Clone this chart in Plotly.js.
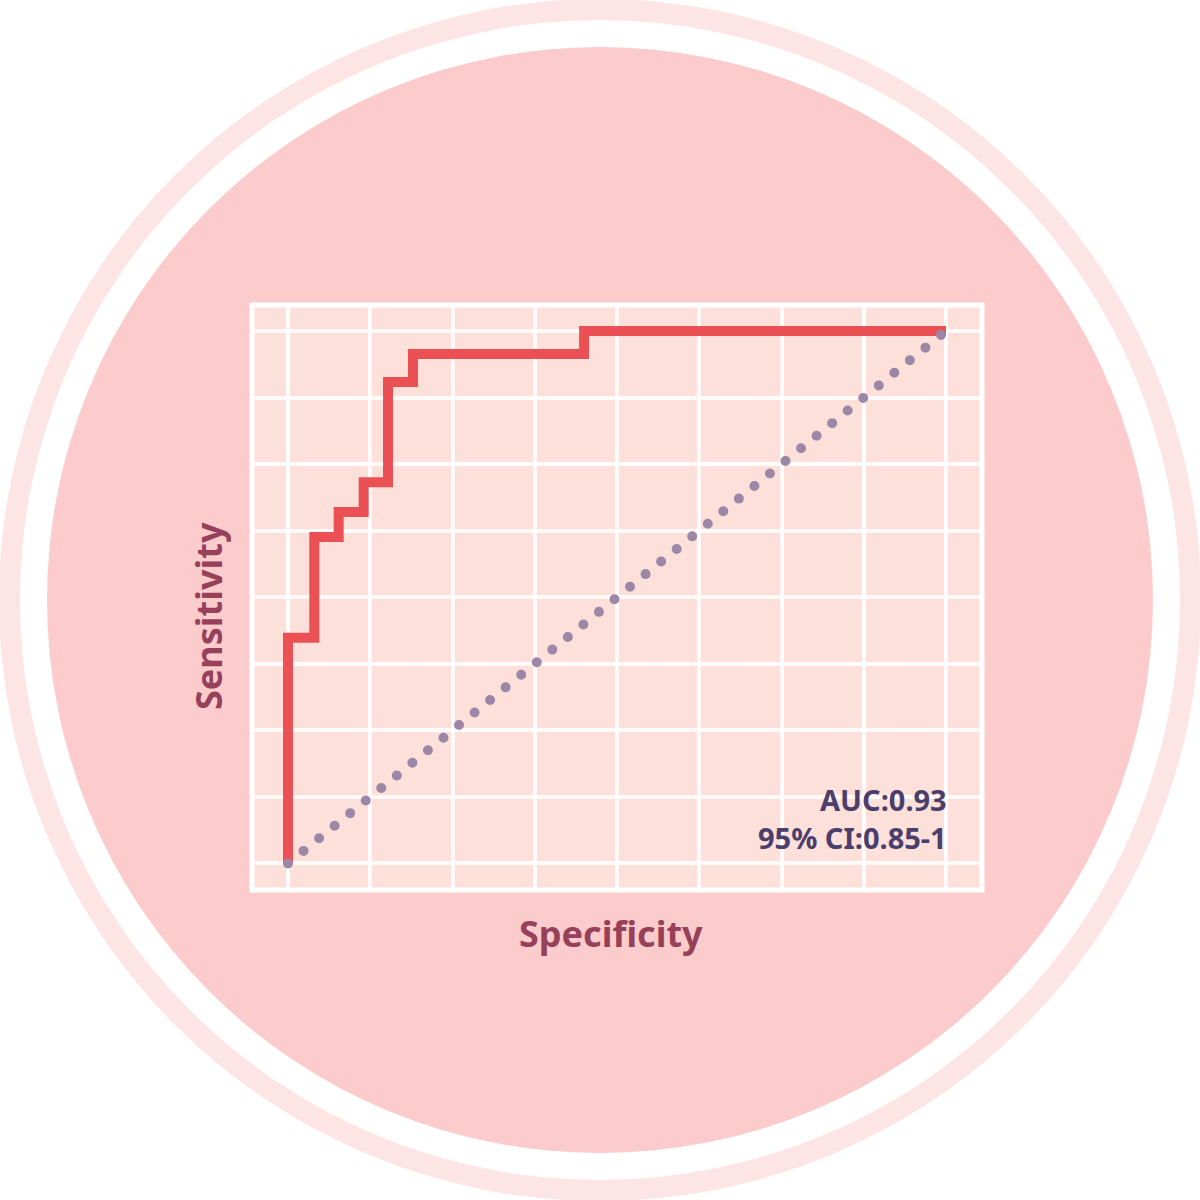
<!DOCTYPE html>
<html><head><meta charset="utf-8">
<script src="https://cdn.plot.ly/plotly-3.0.1.min.js"></script>
<style>html,body{margin:0;padding:0;background:#fff;} #chart{width:1200px;height:1200px;}</style>
</head><body><div id="chart"></div>
<script>
// ROC curve: specificity (x axis, reversed) vs sensitivity (y axis)
const specificity = [1, 0.96, 0.923, 0.885, 0.848, 0.81, 0.55, 0];
const sensitivity = [0, 0.424, 0.613, 0.66, 0.716, 0.904, 0.957, 1];
// chance (reference) diagonal
const refSpecificity = [1, 0];
const refSensitivity = [0, 1];
const aucText = 'AUC:0.93';
const ciText = '95% CI:0.85-1';
const xTitle = 'Specificity';
const yTitle = 'Sensitivity';

const W = 1200, H = 1200;
const M = {l: 252, r: 218, t: 305, b: 310};
const PW = W - M.l - M.r, PH = H - M.t - M.b;
const px = v => (v - M.l) / PW;
const py = v => (H - M.b - v) / PH;

function circle(cx, cy, r, color) {
  return {type: 'circle', xref: 'paper', yref: 'paper', layer: 'below',
    x0: px(cx - r), x1: px(cx + r), y0: py(cy + r), y1: py(cy - r),
    fillcolor: color, line: {width: 0}};
}

const FONT = 'Noto Sans, Lato, sans-serif';
const titleColor = '#97405A';
const noteColor = '#4B3E6C';

const traces = [
  {x: specificity, y: sensitivity, type: 'scatter', mode: 'lines',
   line: {color: '#EB5054', width: 10, shape: 'vh'}, hoverinfo: 'skip'},
  {x: refSpecificity, y: refSensitivity, type: 'scatter', mode: 'lines',
   line: {color: '#9D87A7', width: 10, dash: '0px,20px'}, hoverinfo: 'skip'}
];

const layout = {
  width: W, height: H,
  margin: M,
  paper_bgcolor: '#FFFFFF',
  plot_bgcolor: '#FCE0D9',
  showlegend: false,
  xaxis: {range: [1.0547, -0.0547], showticklabels: false, ticks: '', zeroline: false,
    showgrid: true, gridcolor: 'rgba(255,255,255,0.85)', gridwidth: 4, tick0: 0, dtick: 0.125,
    showline: false, fixedrange: true},
  yaxis: {range: [-0.0498, 1.0488], showticklabels: false, ticks: '', zeroline: false,
    showgrid: true, gridcolor: 'rgba(255,255,255,0.85)', gridwidth: 4, tick0: 0, dtick: 0.125,
    showline: false, fixedrange: true},
  shapes: [
    circle(600, 600, 601, '#FDE5E6'),
    circle(600, 600, 580, '#FFFFFF'),
    circle(600, 600, 553, '#FCCBCB'),
    {type: 'rect', xref: 'paper', yref: 'paper', layer: 'below', x0: 0, x1: 1, y0: 0, y1: 1,
     fillcolor: '#FCE0D9', line: {width: 0}},
    {type: 'rect', xref: 'paper', yref: 'paper', layer: 'above', x0: 0, x1: 1, y0: 0, y1: 1,
     line: {color: '#FFFFFF', width: 5}}
  ],
  annotations: [
    {text: xTitle, xref: 'paper', yref: 'paper', x: px(611), y: py(933), xanchor: 'center', yanchor: 'middle',
     showarrow: false, font: {family: FONT, size: 36, color: titleColor, weight: 700}},
    {text: yTitle, xref: 'paper', yref: 'paper', x: px(208), y: py(616), xanchor: 'center', yanchor: 'middle',
     textangle: -90, showarrow: false, font: {family: FONT, size: 36, color: titleColor, weight: 700}},
    {text: aucText + '<br>' + ciText, xref: 'paper', yref: 'paper', x: px(949), y: py(818), xanchor: 'right', yanchor: 'middle',
     align: 'right', showarrow: false, font: {family: FONT, size: 29, color: noteColor, weight: 700}}
  ]
};

Plotly.newPlot('chart', traces, layout, {staticPlot: true, displayModeBar: false}).then(gd => {
  gd.querySelectorAll('.scatterlayer .js-line').forEach(p => {
    const d = p.style.strokeDasharray || '';
    if (d.indexOf('0px') === 0 || d.indexOf('0,') === 0 || d.indexOf('0 ') === 0) {
      p.style.strokeLinecap = 'round';
    } else {
      p.style.strokeLinejoin = 'miter';
    }
  });
});
</script>
</body></html>
